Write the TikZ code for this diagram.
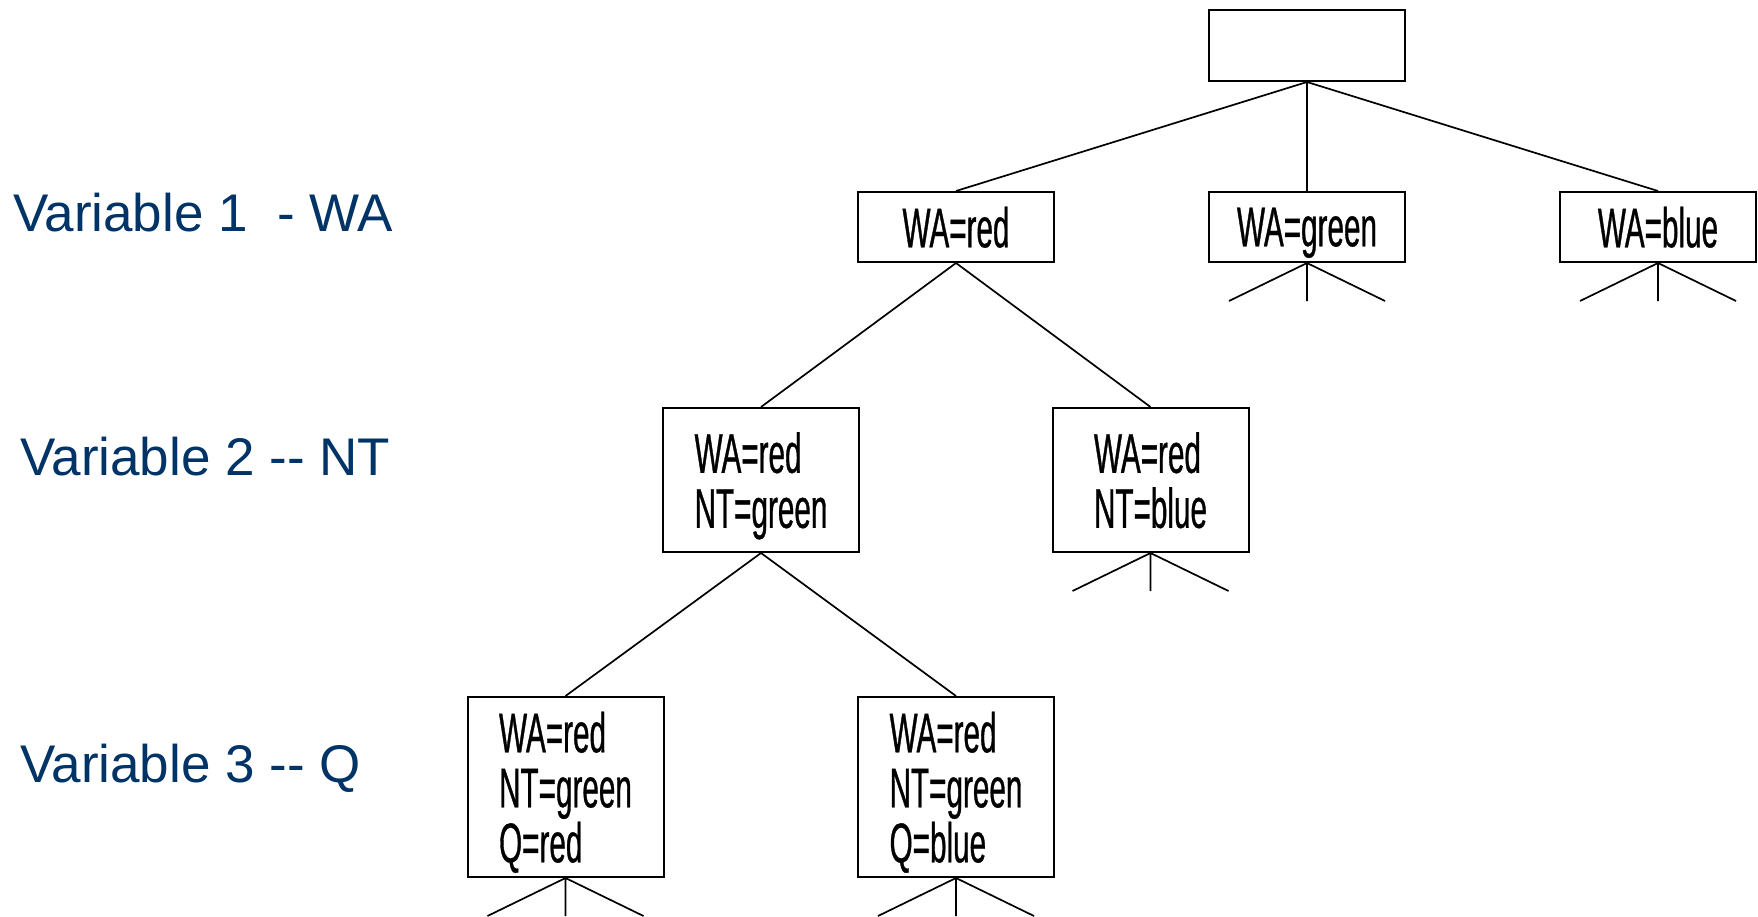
\documentclass[tikz,border=0pt]{standalone}
\usepackage{fontspec}
\setmainfont{Liberation Sans}
\newfontfamily\narrowfont[FakeStretch=0.53, FakeBold=0.6]{Liberation Sans}
\usepackage{tikz}
\usetikzlibrary{positioning}
\definecolor{varblue}{RGB}{0,51,102}
\tikzset{
  statebox/.style={draw, line width=2pt, minimum width=196pt, inner sep=0pt,
    align=left, text depth=0pt, font=\narrowfont\fontsize{56}{55}\selectfont},
  varlabel/.style={anchor=west, inner sep=0pt, text=varblue,
    font=\fontsize{53}{60}\selectfont},
  branch/.style={line width=1.7pt}
}

\begin{document}
\begin{tikzpicture}[x=1pt, y=-1pt]
    \useasboundingbox (0,0) rectangle (1758,916);

    % Variables
    \node [varlabel] (var1) at (13, 213) {Variable 1\ \ - WA};
    \node [varlabel] (var2) at (20, 457) {Variable 2 -{}- NT};
    \node [varlabel] (var3) at (20, 768) {Variable 3 -{}- Q};

    % Root
    \node [statebox, minimum height=71pt] (root) at (1307, 45.5) {};

    % Level 1
    \node [statebox, minimum height=70pt] (wared) at (956, 227) {WA=red};
    \node [statebox, minimum height=70pt] (wagreen) at (1307, 227) {WA=green};
    \node [statebox, minimum height=70pt] (wablue) at (1658, 227) {WA=blue};

    % Level 2
    \node [statebox, minimum height=144pt] (ntgreen) at (761, 480) {WA=red\\NT=green};
    \node [statebox, minimum height=144pt] (ntblue) at (1150.5, 480) {WA=red\\NT=blue};

    % Level 3
    \node [statebox, minimum height=180pt] (qred) at (565.5, 787) {WA=red\\NT=green\\Q=red};
    \node [statebox, minimum height=180pt] (qblue) at (956, 787) {WA=red\\NT=green\\Q=blue};

    % Branches
    \draw [branch] (root.south) -- (wared.north);
    \draw [branch] (root.south) -- (wagreen.north);
    \draw [branch] (root.south) -- (wablue.north);
    \draw [branch] (wared.south) -- (ntgreen.north);
    \draw [branch] (wared.south) -- (ntblue.north);
    \draw [branch] (ntgreen.south) -- (qred.north);
    \draw [branch] (ntgreen.south) -- (qblue.north);

    % Unexpanded subtrees
    \foreach \n in {wagreen, wablue, ntblue, qred, qblue}
        \draw [branch] (\n.south) -- ++(-78, 38) (\n.south) -- ++(0, 38) (\n.south) -- ++(78, 38);
\end{tikzpicture}
\end{document}
